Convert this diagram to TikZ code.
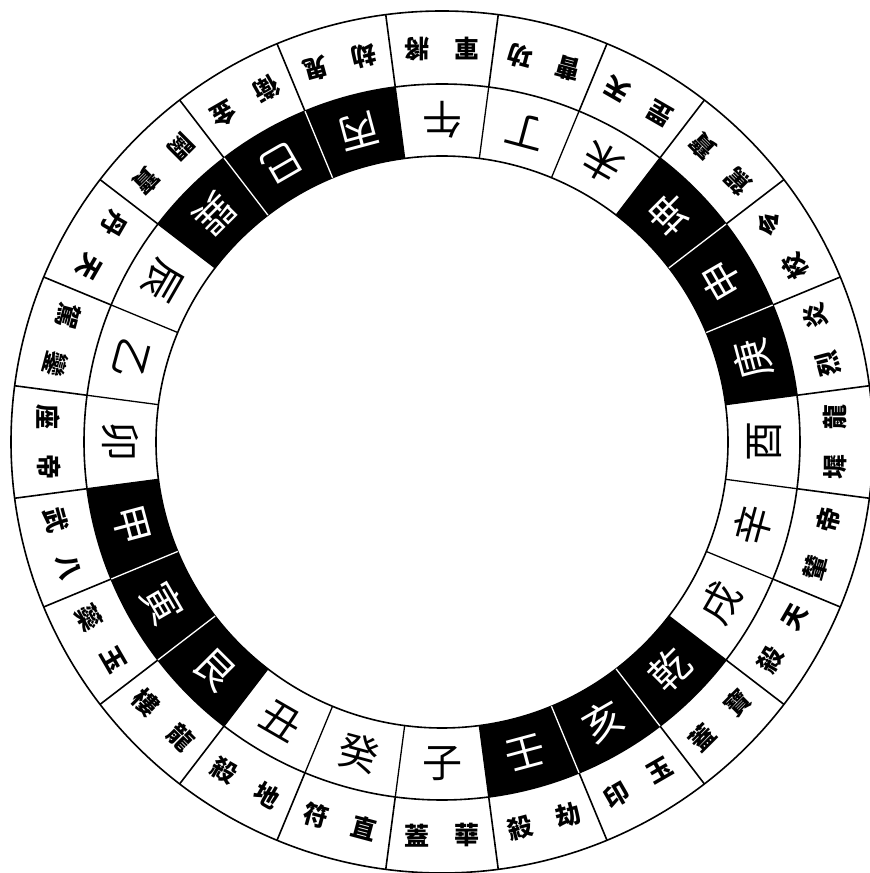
\documentclass[tikz,border=0pt]{standalone}
\usepackage{fontspec}
\newfontfamily\cjk{Noto Sans CJK TC}
\begin{document}
\begin{tikzpicture}[x=1pt,y=1pt,
  ringline/.style={line width=1.6pt,draw=black},
  innerchar/.style={font=\cjk\fontsize{40}{40}\selectfont,inner sep=0pt},
  outerchar/.style={font=\cjk\bfseries\fontsize{25}{25}\selectfont,inner sep=0pt,text=black}]
\useasboundingbox (0,0) rectangle (870,873);
\fill[white] (0,0) rectangle (870,873);
\coordinate (O) at (442,431);
\def\Rin{286}\def\Rmid{358}\def\Rout{431}
\begin{scope}[shift={(O)}]
% black sectors
\foreach \k in {3,4,5,9,10,11,15,16,17,21,22,23}{
  \pgfmathsetmacro\sa{-90-15*\k-7.5}
  \pgfmathsetmacro\ea{-90-15*\k+7.5}
  \fill[black] (\sa:\Rin) arc[start angle=\sa,end angle=\ea,radius=\Rin]
     -- (\ea:\Rmid) arc[start angle=\ea,end angle=\sa,radius=\Rmid] -- cycle;
}
% circles
\draw[ringline] (0,0) circle[radius=\Rin];
\draw[ringline] (0,0) circle[radius=\Rmid];
\draw[ringline] (0,0) circle[radius=\Rout];
% radial dividers
\foreach \k in {0,...,23}{
  \pgfmathsetmacro\b{-90-15*\k-7.5}
  \draw[ringline] (\b:\Rmid) -- (\b:\Rout);
  \ifnum\k=3 \def\lc{white}\else\ifnum\k=4 \def\lc{white}\else
  \ifnum\k=9 \def\lc{white}\else\ifnum\k=10 \def\lc{white}\else
  \ifnum\k=15 \def\lc{white}\else\ifnum\k=16 \def\lc{white}\else
  \ifnum\k=21 \def\lc{white}\else\ifnum\k=22 \def\lc{white}\else
  \def\lc{black}\fi\fi\fi\fi\fi\fi\fi\fi
  \draw[line width=1.3pt,draw=\lc] (\b:\Rin) -- (\b:\Rmid);
}
% inner ring characters
\foreach \ch/\col [count=\n from 0] in {子/black,癸/black,丑/black,艮/white,寅/white,甲/white,卯/black,乙/black,辰/black,巽/white,巳/white,丙/white,午/black,丁/black,未/black,坤/white,申/white,庚/white,酉/black,辛/black,戌/black,乾/white,亥/white,壬/white}{
  \pgfmathsetmacro\a{-90-15*\n}
  \pgfmathsetmacro\r{\a+90}
  \node[innerchar,text=\col,rotate=\r] (in\n) at (\a:322) {\ch};
}
% outer ring labels (first character sits counter-clockwise)
\foreach \p/\q [count=\n from 0] in {華/蓋,直/符,地/殺,龍/樓,玉/蘂,八/武,帝/座,鑾/駕,天/丹,寶/闕,金/衛,鬼/劫,將/軍,功/曹,天/罡,寶/駕,令/校,炎/烈,龍/墀,帝/輦,天/殺,寶/蓋,玉/印,劫/殺}{
  \pgfmathsetmacro\a{-90-15*\n}
  \pgfmathsetmacro\r{\a+90}
  \pgfmathsetmacro\ap{\a+3.6}
  \pgfmathsetmacro\aq{\a-3.6}
  \node[outerchar,rotate=\r] (oa\n) at (\ap:394) {\p};
  \node[outerchar,rotate=\r] (ob\n) at (\aq:394) {\q};
}
\end{scope}
\end{tikzpicture}
\end{document}
